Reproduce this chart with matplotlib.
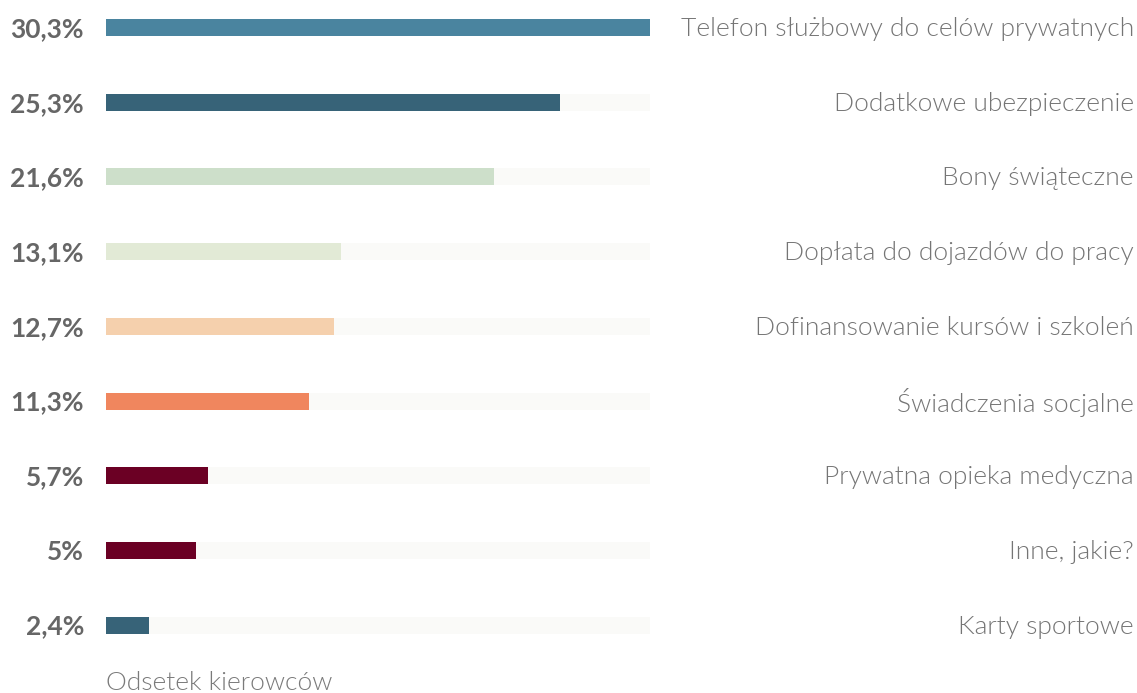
import matplotlib.pyplot as plt
from matplotlib.transforms import blended_transform_factory

# -------- data --------
labels = [
    "Telefon służbowy do celów prywatnych",
    "Dodatkowe ubezpieczenie",
    "Bony świąteczne",
    "Dopłata do dojazdów do pracy",
    "Dofinansowanie kursów i szkoleń",
    "Świadczenia socjalne",
    "Prywatna opieka medyczna",
    "Inne, jakie?",
    "Karty sportowe",
]
values = [30.3, 25.3, 21.6, 13.1, 12.7, 11.3, 5.7, 5.0, 2.4]
value_labels = ["30,3%", "25,3%", "21,6%", "13,1%", "12,7%", "11,3%", "5,7%", "5%", "2,4%"]
colors = ["#4a849f", "#376378", "#cddfca", "#e2ead6", "#f5d0ad",
          "#f0865e", "#6b0024", "#6b0024", "#376378"]
axis_title = "Odsetek kierowców"

W, H = 1137, 693
fig = plt.figure(figsize=(W / 100, H / 100), dpi=100)
fig.patch.set_facecolor("white")

# bars run from x=106px to x=650px, full axes height
ax = fig.add_axes([106 / W, 0, 544 / W, 1])
xmax = max(values)
ax.set_xlim(0, xmax)
pitch = 74.7
ax.set_ylim((H - 27.5) / pitch, -27.5 / pitch)
ax.axis("off")

rows = list(range(len(values)))
bar_h = 17 / pitch
ax.barh(rows, [xmax] * len(values), height=bar_h, color="#fafaf8", zorder=1)
ax.barh(rows, values, height=bar_h, color=colors, zorder=2)

fs = 19
dy = 1.5 / pitch  # text sits a touch below the bar centre
tr = blended_transform_factory(fig.transFigure, ax.transData)
for i, (lab, vl) in enumerate(zip(labels, value_labels)):
    ax.text(84 / W, i + dy, vl, transform=tr, ha="right", va="center",
            fontsize=fs, fontfamily="Lato", fontweight="bold", color="#666666")
    ax.text(1134 / W, i + dy, lab, transform=tr, ha="right", va="center",
            fontsize=fs, fontfamily="Lato", fontweight=300, color="#757575")

fig.text(106 / W, 1 - 683 / H, axis_title, ha="left", va="center",
         fontsize=fs, fontfamily="Lato", fontweight=300, color="#7a7a7a")

fig.savefig("out.png", dpi=100, facecolor="white")
